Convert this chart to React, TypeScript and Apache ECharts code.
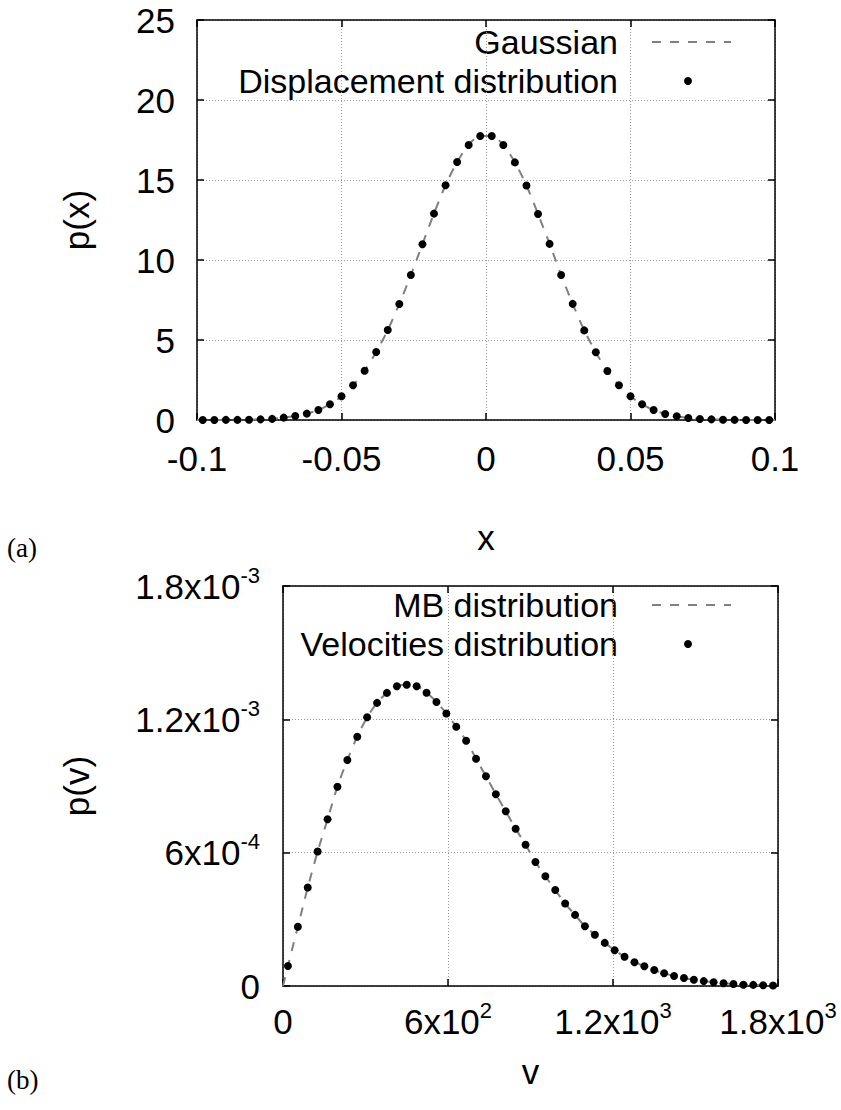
import React, { useEffect, useRef } from "react";
import * as echarts from "echarts";

// ---------- Panel (a): displacement distribution ----------
const dispX = [
  -0.098, -0.094, -0.09, -0.086, -0.082, -0.078, -0.074, -0.07, -0.066, -0.062,
  -0.058, -0.054, -0.05, -0.046, -0.042, -0.038, -0.034, -0.03, -0.026, -0.022,
  -0.018, -0.014, -0.01, -0.006, -0.002, 0.002, 0.006, 0.01, 0.014, 0.018,
  0.022, 0.026, 0.03, 0.034, 0.038, 0.042, 0.046, 0.05, 0.054, 0.058,
  0.062, 0.066, 0.07, 0.074, 0.078, 0.082, 0.086, 0.09, 0.094, 0.098,
];
const dispY = [
  0.0, 0.0, 0.01, 0.01, 0.02, 0.04, 0.07, 0.15, 0.25, 0.4,
  0.63, 0.98, 1.48, 2.17, 3.08, 4.25, 5.62, 7.25, 9.06, 10.98,
  12.9, 14.67, 16.12, 17.19, 17.75, 17.75, 17.19, 16.1, 14.66, 12.88,
  11.01, 9.06, 7.26, 5.6, 4.23, 3.06, 2.17, 1.48, 0.98, 0.62,
  0.38, 0.23, 0.13, 0.06, 0.04, 0.02, 0.01, 0.0, 0.0, 0.0,
];
// Gaussian curve (ends at the frame)
const gaussEndsX = [-0.1, 0.1];
const gaussEndsY = [0, 0];

const xTicksA = [-0.1, -0.05, 0, 0.05, 0.1];
const xTickLabelsA = ["-0.1", "-0.05", "0", "0.05", "0.1"];
const yTicksA = [0, 5, 10, 15, 20, 25];
const yTickLabelsA = ["0", "5", "10", "15", "20", "25"];

// ---------- Panel (b): velocity distribution ----------
const velX = [
  18, 54, 90, 126, 162, 198, 234, 270, 306, 342,
  378, 414, 450, 486, 522, 558, 594, 630, 666, 702,
  738, 774, 810, 846, 882, 918, 954, 990, 1026, 1062,
  1098, 1134, 1170, 1206, 1242, 1278, 1314, 1350, 1386, 1422,
  1458, 1494, 1530, 1566, 1602, 1638, 1674, 1710, 1746, 1782,
];
const velY = [
  9.0e-5, 2.67e-4, 4.43e-4, 6.05e-4, 7.5e-4, 8.97e-4, 1.017e-3, 1.122e-3, 1.209e-3, 1.274e-3,
  1.319e-3, 1.349e-3, 1.356e-3, 1.349e-3, 1.32e-3, 1.278e-3, 1.226e-3, 1.167e-3, 1.104e-3, 1.023e-3,
  9.44e-4, 8.63e-4, 7.86e-4, 7.08e-4, 6.36e-4, 5.58e-4, 4.94e-4, 4.32e-4, 3.71e-4, 3.2e-4,
  2.69e-4, 2.31e-4, 1.94e-4, 1.61e-4, 1.32e-4, 1.07e-4, 8.9e-5, 7.2e-5, 5.7e-5, 4.5e-5,
  3.6e-5, 2.8e-5, 2.2e-5, 1.7e-5, 1.2e-5, 9e-6, 6e-6, 5e-6, 3e-6, 2e-6,
];
const mbStartX = [0];
const mbStartY = [0];

const xTicksB = [0, 600, 1200, 1800];
const xTickLabelsB = ["0", "6x10^2", "1.2x10^3", "1.8x10^3"];
const yTicksB = [0, 0.0006, 0.0012, 0.0018];
const yTickLabelsB = ["0", "6x10^-4", "1.2x10^-3", "1.8x10^-3"];

const legendA = ["Gaussian", "Displacement distribution"];
const legendB = ["MB distribution", "Velocities distribution"];

const FONT = "'Liberation Sans', Arial, Helvetica, sans-serif";
const SERIF = "'Liberation Serif', 'DejaVu Serif', serif";
const FS = 35;
const LEG_FS = 34;
const LINE_GRAY = "#808080";

function lookup(ticks: number[], labels: string[], v: number) {
  for (let i = 0; i < ticks.length; i++) {
    if (Math.abs(ticks[i] - v) < 1e-9 * Math.max(1, Math.abs(ticks[i]))) return labels[i];
  }
  for (let i = 0; i < ticks.length; i++) {
    if (Math.abs(ticks[i] - v) < 1e-12) return labels[i];
  }
  return "";
}

function supRich(label: string) {
  const parts = label.split("^");
  if (parts.length === 1) return `{m|${parts[0]}}`;
  return `{m|${parts[0]}}{s|${parts[1]}}`;
}

const richSup = {
  m: { fontSize: FS, fontFamily: FONT, color: "#000", lineHeight: 44 },
  s: { fontSize: 22, fontFamily: FONT, color: "#000", lineHeight: 21, verticalAlign: "top" },
};

function zip(xs: number[], ys: number[]) {
  return xs.map((x, i) => [x, ys[i]]);
}

const axisLine = { show: true, onZero: false, lineStyle: { color: "#000", width: 1.5 } };
const axisTick = { show: true, inside: true, length: 7, lineStyle: { color: "#000", width: 1.5 } };
const gridLine = { show: true, lineStyle: { type: [1, 2], color: "#9a9a9a", width: 1 } };
const nameStyle = { fontSize: FS, fontFamily: FONT, color: "#000" };

export default function App() {
  const ref = useRef<HTMLDivElement>(null);

  useEffect(() => {
    if (!ref.current) return;
    const chart = echarts.init(ref.current, undefined, { renderer: "svg" });

    const gaussData = zip([gaussEndsX[0], ...dispX, gaussEndsX[1]], [gaussEndsY[0], ...dispY, gaussEndsY[1]]);
    const mbData = zip([...mbStartX, ...velX], [...mbStartY, ...velY]);

    const legendText = (text: string, y: number) => ({
      type: "text",
      x: 618,
      y,
      style: {
        text,
        fontSize: LEG_FS,
        fontFamily: FONT,
        lineHeight: 30,
        fill: "#000",
        align: "right",
        verticalAlign: "middle",
        textAlign: "right",
        textVerticalAlign: "middle",
      },
    });
    const legendDash = (y: number) => ({
      type: "line",
      shape: { x1: 652, y1: y, x2: 731, y2: y },
      style: { stroke: LINE_GRAY, lineWidth: 2, lineDash: [9, 9] },
    });
    const legendDot = (y: number) => ({
      type: "circle",
      shape: { cx: 688, cy: y, r: 4 },
      style: { fill: "#000" },
    });
    const panelLabel = (text: string, y: number) => ({
      type: "text",
      x: 7,
      y,
      style: {
        text,
        fontSize: 27,
        fontFamily: SERIF,
        fill: "#000",
        align: "left",
        verticalAlign: "middle",
        textAlign: "left",
        textVerticalAlign: "middle",
      },
    });

    const option: any = {
      animation: false,
      backgroundColor: "#fff",
      grid: [
        { left: 197, top: 20, width: 578, height: 400 },
        { left: 283, top: 586, width: 495, height: 400 },
      ],
      xAxis: [
        {
          gridIndex: 0,
          type: "value",
          position: "bottom",
          min: -0.1,
          max: 0.1,
          interval: 0.05,
          axisLine,
          axisTick,
          splitLine: gridLine,
          axisLabel: {
            margin: 18,
            fontSize: FS,
            fontFamily: FONT,
            color: "#000",
            lineHeight: 40,
            showMinLabel: true,
            showMaxLabel: true,
            formatter: (v: number) => lookup(xTicksA, xTickLabelsA, v),
          },
          name: "x",
          nameLocation: "middle",
          nameGap: 100,
          nameTextStyle: nameStyle,
        },
        {
          gridIndex: 0,
          type: "value",
          position: "top",
          min: -0.1,
          max: 0.1,
          interval: 0.05,
          axisLine,
          axisTick,
          splitLine: { show: false },
          axisLabel: { show: false },
        },
        {
          gridIndex: 1,
          type: "value",
          position: "bottom",
          min: 0,
          max: 1800,
          interval: 600,
          axisLine,
          axisTick,
          splitLine: gridLine,
          axisLabel: {
            margin: 13,
            showMinLabel: true,
            showMaxLabel: true,
            formatter: (v: number) => supRich(lookup(xTicksB, xTickLabelsB, v)),
            rich: richSup,
          },
          name: "v",
          nameLocation: "middle",
          nameGap: 68,
          nameTextStyle: nameStyle,
        },
        {
          gridIndex: 1,
          type: "value",
          position: "top",
          min: 0,
          max: 1800,
          interval: 600,
          axisLine,
          axisTick,
          splitLine: { show: false },
          axisLabel: { show: false },
        },
      ],
      yAxis: [
        {
          gridIndex: 0,
          type: "value",
          position: "left",
          min: 0,
          max: 25,
          interval: 5,
          axisLine,
          axisTick,
          splitLine: gridLine,
          axisLabel: {
            margin: 22,
            fontSize: FS,
            fontFamily: FONT,
            color: "#000",
            showMinLabel: true,
            showMaxLabel: true,
            formatter: (v: number) => lookup(yTicksA, yTickLabelsA, v),
          },
          name: "p(x)",
          nameLocation: "middle",
          nameGap: 103,
          nameTextStyle: nameStyle,
        },
        {
          gridIndex: 0,
          type: "value",
          position: "right",
          min: 0,
          max: 25,
          interval: 5,
          axisLine,
          axisTick,
          splitLine: { show: false },
          axisLabel: { show: false },
        },
        {
          gridIndex: 1,
          type: "value",
          position: "left",
          min: 0,
          max: 0.0018,
          interval: 0.0006,
          axisLine,
          axisTick,
          splitLine: gridLine,
          axisLabel: {
            margin: 23,
            showMinLabel: true,
            showMaxLabel: true,
            formatter: (v: number) => supRich(lookup(yTicksB, yTickLabelsB, v)),
            rich: richSup,
          },
          name: "p(v)",
          nameLocation: "middle",
          nameGap: 189,
          nameTextStyle: nameStyle,
        },
        {
          gridIndex: 1,
          type: "value",
          position: "right",
          min: 0,
          max: 0.0018,
          interval: 0.0006,
          axisLine,
          axisTick,
          splitLine: { show: false },
          axisLabel: { show: false },
        },
      ],
      series: [
        {
          name: legendA[0],
          type: "line",
          xAxisIndex: 0,
          yAxisIndex: 0,
          data: gaussData,
          showSymbol: false,
          smooth: 0.3,
          lineStyle: { color: LINE_GRAY, width: 2, type: [9, 9] },
          z: 2,
        },
        {
          name: legendA[1],
          type: "scatter",
          xAxisIndex: 0,
          yAxisIndex: 0,
          data: zip(dispX, dispY),
          symbol: "circle",
          symbolSize: 8,
          itemStyle: { color: "#000", opacity: 1 },
          z: 3,
        },
        {
          name: legendB[0],
          type: "line",
          xAxisIndex: 2,
          yAxisIndex: 2,
          data: mbData,
          showSymbol: false,
          smooth: 0.3,
          lineStyle: { color: LINE_GRAY, width: 2, type: [9, 9] },
          z: 2,
        },
        {
          name: legendB[1],
          type: "scatter",
          xAxisIndex: 2,
          yAxisIndex: 2,
          data: zip(velX, velY),
          symbol: "circle",
          symbolSize: 8,
          itemStyle: { color: "#000", opacity: 1 },
          z: 3,
        },
      ],
      graphic: [
        legendText(legendA[0], 42),
        legendDash(42),
        legendText(legendA[1], 81),
        legendDot(81),
        legendText(legendB[0], 605),
        legendDash(605),
        legendText(legendB[1], 644),
        legendDot(644),
        panelLabel("(a)", 548),
        panelLabel("(b)", 1080),
      ],
    };

    chart.setOption(option);
    return () => chart.dispose();
  }, []);

  return (
    <div
      ref={ref}
      style={{ position: "absolute", left: 0, top: 0, width: 841, height: 1110, background: "#fff" }}
    />
  );
}
